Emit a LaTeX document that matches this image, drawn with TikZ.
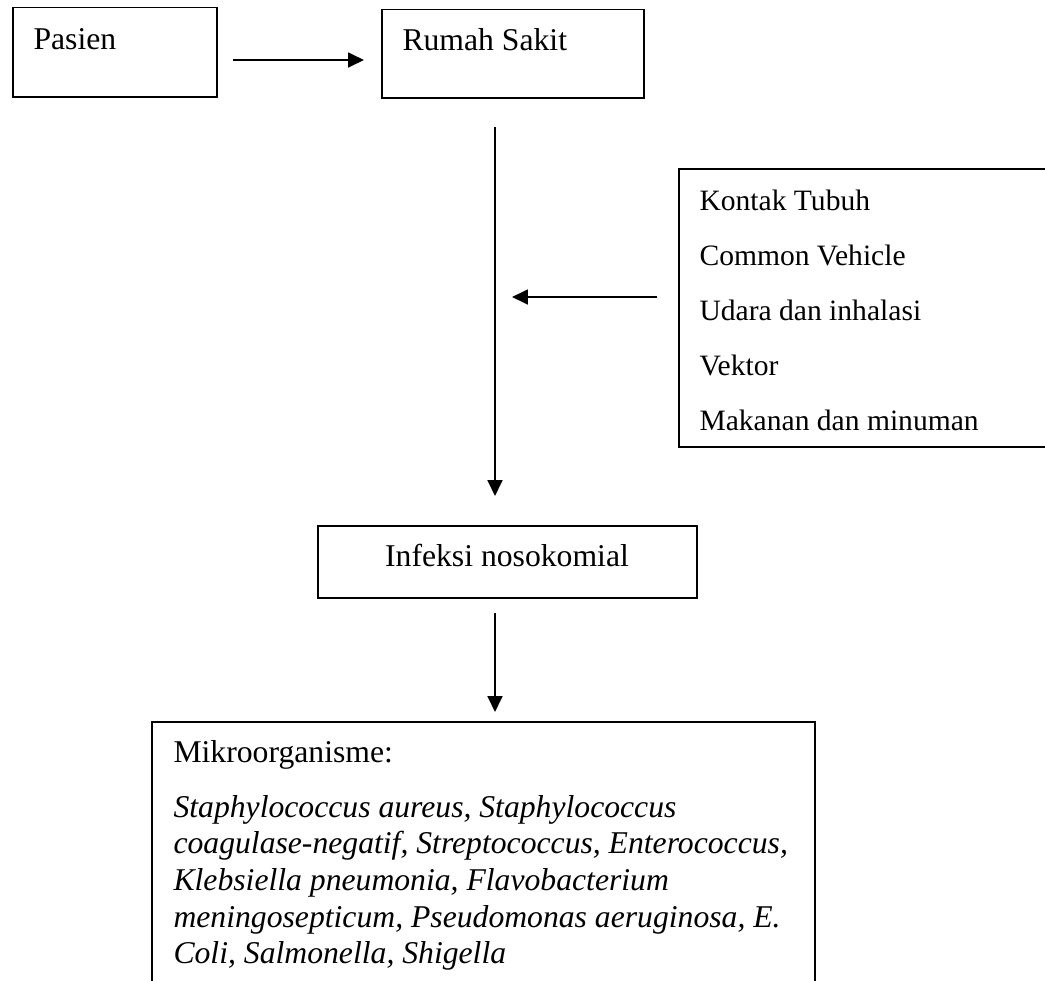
\documentclass[tikz,border=0pt]{standalone}
\usepackage{fontspec}
\setmainfont{Liberation Serif}
\usetikzlibrary{arrows.meta,fit}
\tikzset{
  box/.style={draw=black, line width=0.75pt, inner sep=0pt},
  txt/.style={anchor=base west, inner sep=0pt, font=\fontsize{12}{14}\selectfont},
  stx/.style={txt, font=\fontsize{11.2}{13}\selectfont},
  itx/.style={txt, font=\fontsize{12}{14}\selectfont\itshape},
  arr/.style={line width=0.75pt, -{Triangle[length=6pt,width=5.6pt]}},
  ln/.style={line width=0.75pt}
}
\begin{document}
\begin{tikzpicture}[x=0.3788pt, y=-0.3788pt]
\clip (0,0) rectangle (1045,980);
\fill[white] (0,0) rectangle (1045,980);
% boxes
\node[box, fit={(12.7,7.5)(217,97)}] (pasien) {};
\node[box, fit={(382,9.5)(644,98)}] (rs) {};
\node[box, fit={(679,169)(1065,447)}] (cara) {};
\node[box, fit={(318,526)(697,598)}] (inf) {};
\node[box, fit={(152,722)(815,1000)}] (mik) {};
% texts
\node[txt] (tpasien) at (33,49) {Pasien};
\node[txt] (trs) at (402,50) {Rumah Sakit};
\node[stx] (c1) at (699,210) {Kontak Tubuh};
\node[stx] (c2) at (699,265) {Common Vehicle};
\node[stx] (c3) at (699,320) {Udara dan inhalasi};
\node[stx] (c4) at (699,375) {Vektor};
\node[stx] (c5) at (699,430) {Makanan dan minuman};
\node[txt, anchor=base] (tinf) at (507,566) {Infeksi nosokomial};
\node[txt] (m0) at (173,762) {Mikroorganisme:};
\node[itx] (m1) at (173,817) {Staphylococcus aureus, Staphylococcus};
\node[itx] (m2) at (173,853) {coagulase-negatif, Streptococcus, Enterococcus,};
\node[itx] (m3) at (173,890) {Klebsiella pneumonia, Flavobacterium};
\node[itx] (m4) at (173,927) {meningosepticum, Pseudomonas aeruginosa, E.};
\node[itx] (m5) at (173,963) {Coli, Salmonella, Shigella};
% connector points
\coordinate (vtop) at (495,127);
\coordinate (vbot) at (495,496);
\coordinate (vmid) at (512,297);
\coordinate (a1s) at (233,60);
\coordinate (a1e) at (364,60);
\coordinate (a2s) at (657,297);
\coordinate (a3s) at (495,613);
\coordinate (a3e) at (495,712);
% connectors
\draw[arr] (a1s) -- (a1e);
\draw[arr] (vtop) -- (vbot);
\draw[arr] (a2s) -- (vmid);
\draw[arr] (a3s) -- (a3e);
\end{tikzpicture}
\end{document}
